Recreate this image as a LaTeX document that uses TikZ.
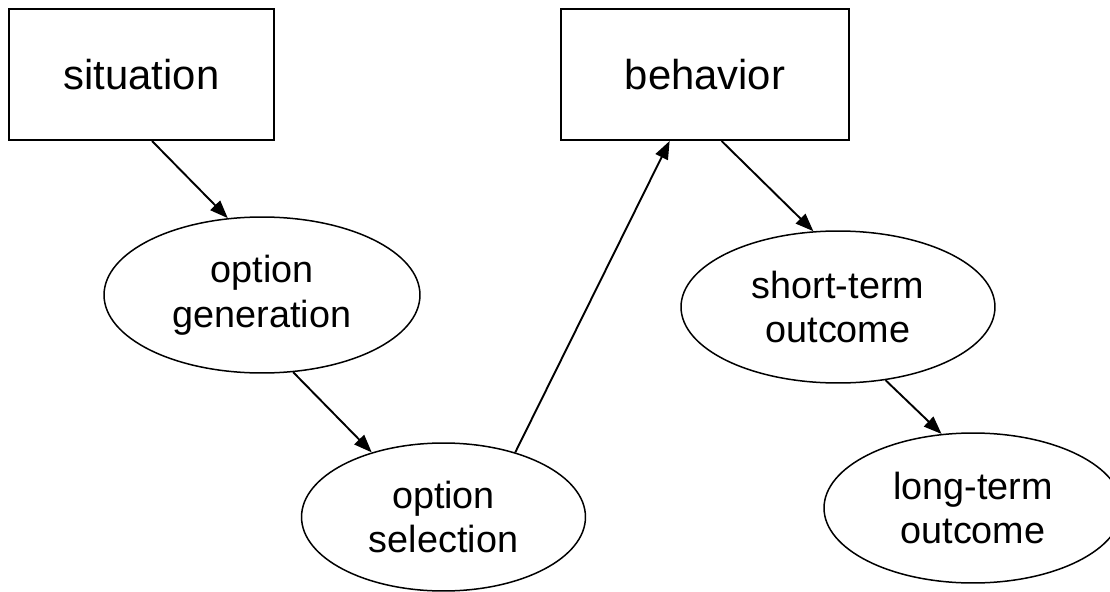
\documentclass[tikz,border=0pt]{standalone}
\usepackage{fontspec}
\setmainfont{Liberation Sans}
\usepackage{tikz}
\usetikzlibrary{shapes, calc, arrows.meta}

\begin{document}
\begin{tikzpicture}[x=0.02cm, y=-0.02cm,
                        rectnode/.style={draw, line width=0.04cm, inner sep=0, minimum height=2.62cm, font=\fontsize{23.8pt}{28pt}\selectfont},
                        ovalnode/.style={draw, ellipse, line width=0.03cm, inner sep=0, align=center, font=\fontsize{21.5pt}{25.5pt}\selectfont},
                        flow/.style={line width=0.038cm, -{Triangle[length=0.36cm, width=0.27cm]}}]
                        \useasboundingbox (0,0) rectangle (1110,592);
                        \node[rectnode, minimum width=5.3cm] (situation) at (141.5,74.5) {situation};
                        \node[rectnode, minimum width=5.76cm] (behavior) at (705,74.5) {behavior};
                        \node[ovalnode, minimum width=6.32cm, minimum height=3.12cm] (generation) at (262,295) {option\\generation};
                        \node[ovalnode, minimum width=5.68cm, minimum height=2.96cm] (selection) at (443.5,517) {option\\selection};
                        \node[ovalnode, minimum width=6.28cm, minimum height=3.04cm] (shortterm) at (838,307) {short-term\\outcome};
                        \node[ovalnode, minimum width=5.96cm, minimum height=3.0cm] (longterm) at (973,508) {long-term\\outcome};
                        \draw[flow] (situation.279) -- (generation.114);
                        \draw[flow] (generation.292.6) -- (selection.138.6);
                        \draw[flow] (selection.42.2) -- (behavior.242);
                        \draw[flow] (behavior.284.6) -- (shortterm.108.9);
                        \draw[flow] (shortterm.303.9) -- (longterm.113.1);
                    \end{tikzpicture}
\end{document}
